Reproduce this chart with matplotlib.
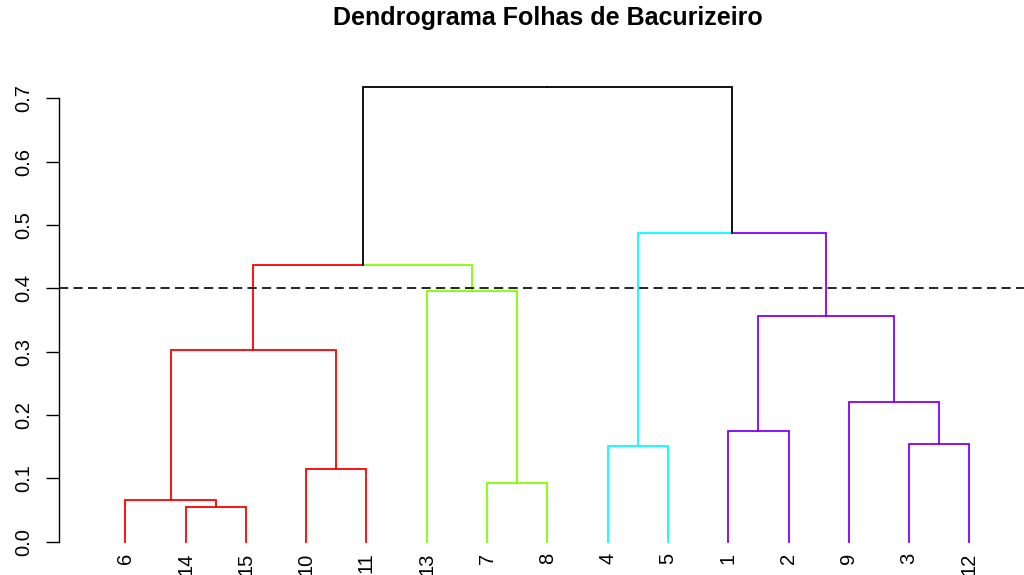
import matplotlib
matplotlib.use("Agg")
import matplotlib.pyplot as plt

# ── Data ──────────────────────────────────────────────────────────────────────
leaf_order = [6, 14, 15, 10, 11, 13, 7, 8, 4, 5, 1, 2, 9, 3, 12]
leaf_cluster = [0, 0, 0, 0, 0, 1, 1, 1, 2, 2, 3, 3, 3, 3, 3]

# hclust-style merges: negative = leaf label, positive = earlier merge step
merge_left = [-14, -6, -7, -10, -4, -3, -1, -9, 2, 7, -13, 9, 5, 12]
merge_right = [-15, 1, -8, -11, -5, -12, -2, 6, 4, 8, 3, 11, 10, 13]
merge_height = [0.054, 0.066, 0.093, 0.115, 0.151, 0.155, 0.175, 0.221,
                0.303, 0.357, 0.396, 0.437, 0.487, 0.718]

cut_height = 0.4
cluster_colors = ["#FF0000", "#80FF00", "#00FFFF", "#8000FF"]
y_ticks = [0.0, 0.1, 0.2, 0.3, 0.4, 0.5, 0.6, 0.7]

plt.rcParams["font.family"] = ["Liberation Sans", "DejaVu Sans"]

W, H = 1024, 575
fig = plt.figure(figsize=(W / 100, H / 100), dpi=100)

# plot region in pixels: x=-0.1 at px 59, x=1 at px 125.3; y=0 at 541.7, y=0.7 at 98.3
px_per_x = 60.29
px_per_y = (541.7 - 98.3) / 0.7
n = len(leaf_order)
xlim = (-0.1, n + 1.1)
ylim = (-0.04 * 0.718, 0.718 * 1.04)
left_px = 59
right_px = left_px + (xlim[1] - xlim[0]) * px_per_x
bottom_px = 541.7 - ylim[0] * px_per_y
top_px = 541.7 - ylim[1] * px_per_y
ax = fig.add_axes([left_px / W, 1 - bottom_px / H,
                   (right_px - left_px) / W, (bottom_px - top_px) / H])

# ── Tree layout ───────────────────────────────────────────────────────────────
leaf_x = {lab: i + 1 for i, lab in enumerate(leaf_order)}
leaf_cl = {lab: c for lab, c in zip(leaf_order, leaf_cluster)}


def node_info(ref):
    # returns x, height, set of clusters
    if ref < 0:
        return leaf_x[-ref], 0.0, {leaf_cl[-ref]}
    return nodes[ref - 1]


nodes = []
for a, b, h in zip(merge_left, merge_right, merge_height):
    xa, _, ca = node_info(a)
    xb, _, cb = node_info(b)
    nodes.append(((xa + xb) / 2, h, ca | cb))

for a, b, (x, h, _) in zip(merge_left, merge_right, nodes):
    for child in (a, b):
        xc, hc, cc = node_info(child)
        col = cluster_colors[next(iter(cc))] if len(cc) == 1 else "black"
        ax.plot([x, xc, xc], [h, h, hc], color=col, lw=1.3,
                solid_joinstyle="miter", clip_on=False)

# cut line
ax.axhline(cut_height, color="black", lw=1.2, dashes=(5.5, 3.2), clip_on=False)

# leaf labels
for lab, x in leaf_x.items():
    ax.annotate(str(lab), xy=(x, 0), xytext=(0, -11), textcoords="offset pixels",
                rotation=90, ha="center", va="top", fontsize=14.5)

# axes styling
for s in ["top", "right", "bottom"]:
    ax.spines[s].set_visible(False)
ax.spines["left"].set_bounds(y_ticks[0], y_ticks[-1])
ax.spines["left"].set_linewidth(1.0)
ax.set_xticks([])
ax.set_yticks(y_ticks)
ax.set_yticklabels([f"{v:.1f}" for v in y_ticks], rotation=90, va="center", fontsize=14.5)
ax.tick_params(axis="y", length=9.4, width=1.0, pad=9)
ax.set_xlim(*xlim)
ax.set_ylim(*ylim)

fig.text(548 / W, 1 - 18 / H, "Dendrograma Folhas de Bacurizeiro",
         ha="center", va="center", fontsize=18, fontweight="bold")

fig.savefig("out.png", dpi=100)
